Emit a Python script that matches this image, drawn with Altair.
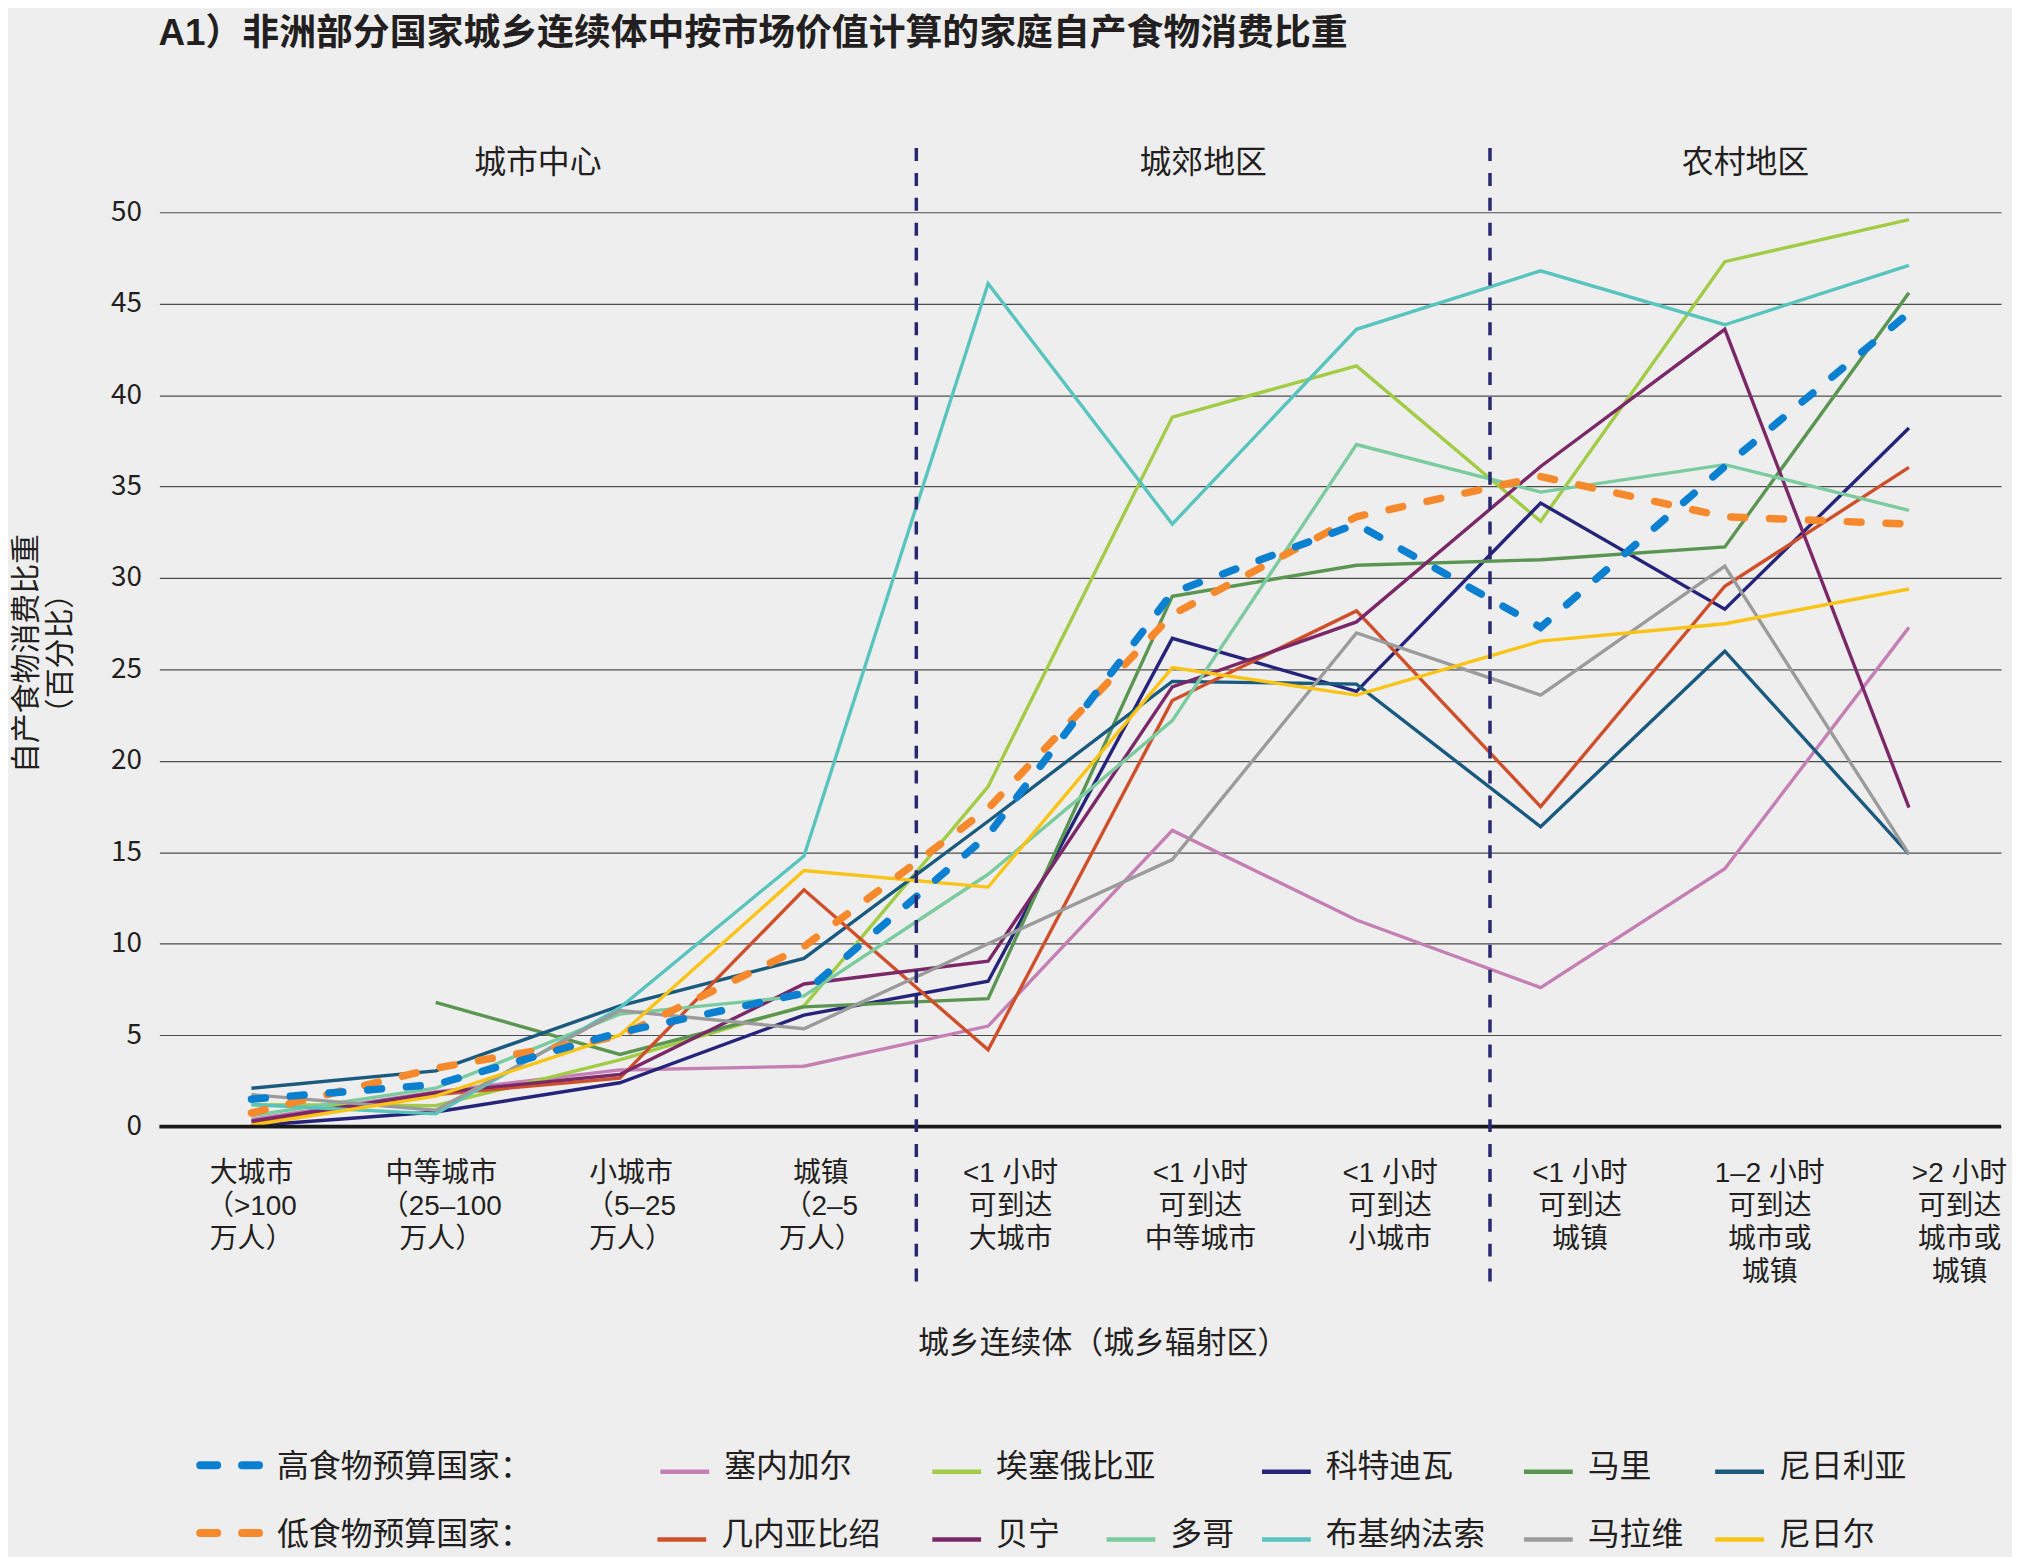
import altair as alt
import pandas as pd

# ---------------- data ----------------
CATEGORIES = [
    "大城市\n（>100\n万人）",
    "中等城市\n（25–100\n万人）",
    "小城市\n（5–25\n万人）",
    "城镇\n（2–5\n万人）",
    "<1 小时\n可到达\n大城市",
    "<1 小时\n可到达\n中等城市",
    "<1 小时\n可到达\n小城市",
    "<1 小时\n可到达\n城镇",
    "1–2 小时\n可到达\n城市或\n城镇",
    ">2 小时\n可到达\n城市或\n城镇",
]
SECTIONS = ["城市中心", "城郊地区", "农村地区"]

HIGH_COUNTRIES = ["塞内加尔", "埃塞俄比亚", "科特迪瓦", "马里", "尼日利亚"]
LOW_COUNTRIES = ["几内亚比绍", "贝宁", "多哥", "布基纳法索", "马拉维", "尼日尔"]

senegal     = [0.4, 1.9, 3.1, 3.3, 5.5, 16.2, 11.3, 7.6, 14.1, 27.3]
ethiopia    = [1.2, 1.15, 3.65, 6.6, 18.6, 38.8, 41.6, 33.1, 47.3, 49.6]
cotedivoire = [0.05, 0.8, 2.4, 6.1, 7.95, 26.7, 23.8, 34.1, 28.3, 38.2]
mali        = [None, 6.8, 3.95, 6.55, 7.0, 29.0, 30.7, 31.0, 31.7, 45.6]
nigeria     = [2.1, 3.05, 6.6, 9.2, 16.7, 24.35, 24.2, 16.4, 26.0, 14.9]
guineabiss  = [0.25, 1.75, 2.65, 12.95, 4.2, 23.3, 28.2, 17.5, 29.55, 36.05]
benin       = [0.3, 1.85, 2.85, 7.8, 9.05, 24.05, 27.6, 36.1, 43.6, 17.45]
togo        = [0.6, 2.1, 6.15, 7.15, 13.8, 22.2, 37.3, 34.7, 36.2, 33.7]
burkina     = [1.2, 0.7, 6.5, 14.8, 46.1, 32.95, 43.6, 46.8, 43.85, 47.1]
malawi      = [1.75, 0.9, 6.35, 5.35, 10.0, 14.6, 27.0, 23.6, 30.65, 14.9]
niger       = [0.08, 1.67, 5.0, 14.0, 13.1, 25.1, 23.6, 26.55, 27.5, 29.4]

AVG_HIGH_NAME = "高食物预算国家："
AVG_LOW_NAME = "低食物预算国家："
avg_high = [1.5, 2.3, 5.15, 7.3, 15.95, 29.2, 32.95, 27.3, 36.1, 44.5]
avg_low  = [0.75, 3.2, 4.95, 9.85, 17.4, 28.0, 33.35, 35.55, 33.35, 32.95]

SERIES = {
    "塞内加尔": senegal, "埃塞俄比亚": ethiopia, "科特迪瓦": cotedivoire,
    "马里": mali, "尼日利亚": nigeria, "几内亚比绍": guineabiss, "贝宁": benin,
    "多哥": togo, "布基纳法索": burkina, "马拉维": malawi, "尼日尔": niger,
}

TITLE = "A1）非洲部分国家城乡连续体中按市场价值计算的家庭自产食物消费比重"
Y_TITLE = "自产食物消费比重\n（百分比）"
X_TITLE = "城乡连续体（城乡辐射区）"

# ---------------- styles / layout ----------------
COLORS = {
    "塞内加尔": "#c47fb4", "埃塞俄比亚": "#a2cc45", "科特迪瓦": "#25247a",
    "马里": "#5a9652", "尼日利亚": "#1a5a7e", "几内亚比绍": "#cf4f2a",
    "贝宁": "#7b2869", "多哥": "#7acb9d", "布基纳法索": "#58c4be",
    "马拉维": "#9b9b9b", "尼日尔": "#f9c415",
}
BLUE = "#0b7fd0"
ORANGE = "#f6892c"
NAVY = "#28276f"
TXT = "#231f20"
BG = "#eeeeee"
FONT = "Noto Sans CJK SC"
FONT_MIX = "Liberation Sans, Noto Sans CJK SC"

W, H = 1849, 918
PAD = {"left": 152, "top": 202, "right": 11, "bottom": 429}
DIVIDERS = [3.61, 6.725]
X_MIN, X_MAX = -0.5, 9.5
LABEL_STEP = 1.0305

X_SCALE = alt.Scale(domain=[X_MIN, X_MAX], nice=False, zero=False)
Y_SCALE = alt.Scale(domain=[0, 50], nice=False, zero=True)

Y_AXIS = alt.Axis(values=list(range(0, 51, 5)), grid=True, gridColor="#4d4d4d",
                  gridWidth=1.2, domain=False, ticks=False, labelPadding=18,
                  labelFontSize=28, labelFont=FONT, labelColor=TXT, title=None)


def xq(f):
    return alt.X(f, scale=X_SCALE, axis=None)


def yq(f):
    return alt.Y(f, scale=Y_SCALE, axis=Y_AXIS)


# ---------------- tables ----------------
names = HIGH_COUNTRIES + LOW_COUNTRIES
rows = []
for name in names:
    for i, v in enumerate(SERIES[name]):
        if v is not None:
            rows.append({"country": name, "idx": i, "value": v})
df = pd.DataFrame(rows)

df_hi = pd.DataFrame({"idx": list(range(len(avg_high))), "value": avg_high})
df_lo = pd.DataFrame({"idx": list(range(len(avg_low))), "value": avg_low})

country_lines = alt.Chart(df).mark_line(strokeWidth=3.4).encode(
    x=xq("idx:Q"),
    y=yq("value:Q"),
    color=alt.Color("country:N",
                    scale=alt.Scale(domain=names, range=[COLORS[n] for n in names]),
                    legend=None),
)

zero_line = alt.Chart(pd.DataFrame({"v": [0]})).mark_rule(
    color="#1a1a1a", strokeWidth=4).encode(y=yq("v:Q"))

lo_line = alt.Chart(df_lo).mark_line(
    strokeWidth=7.5, strokeDash=[14, 25], strokeCap="round", color=ORANGE).encode(
    x=xq("idx:Q"), y=yq("value:Q"))
hi_line = alt.Chart(df_hi).mark_line(
    strokeWidth=7.5, strokeDash=[14, 25], strokeCap="round", color=BLUE).encode(
    x=xq("idx:Q"), y=yq("value:Q"))

dividers = alt.Chart(pd.DataFrame({"pos": DIVIDERS})).mark_rule(
    color=NAVY, strokeWidth=3.5, strokeDash=[13, 12]).encode(
    x=xq("pos:Q"), y=alt.value(-64.5), y2=alt.value(1075.6))

bounds = [X_MIN] + DIVIDERS + [X_MAX]
sec_df = pd.DataFrame({"name": SECTIONS,
                       "pos": [(bounds[k] + bounds[k + 1]) / 2 for k in range(3)]})
sections = alt.Chart(sec_df).mark_text(
    font=FONT, fontSize=32, color=TXT, align="center", baseline="middle").encode(
    x=xq("pos:Q"), y=alt.value(-49), text="name:N")

lab_df = pd.DataFrame({"label": CATEGORIES,
                       "pos": [i * LABEL_STEP for i in range(len(CATEGORIES))]})
xlabels = alt.Chart(lab_df).mark_text(
    font=FONT_MIX, fontSize=28, color=TXT, align="center", baseline="top",
    lineBreak="\n", lineHeight=33).encode(
    x=xq("pos:Q"), y=alt.value(H + 34), text="label:N")


def free_text(txt, x, y, font=FONT, **kw):
    return alt.Chart(pd.DataFrame({"t": [txt]})).mark_text(
        font=font, color=TXT, **kw).encode(
        x=alt.value(x), y=alt.value(y), text="t:N")


title = free_text(TITLE, -1, -179, font=FONT_MIX, fontSize=37, fontWeight="bold",
                  align="left", baseline="middle")
xtitle = free_text(X_TITLE, W / 2 + 23, 1136, fontSize=31,
                   align="center", baseline="middle")
ytitle = free_text(Y_TITLE, -133, 443, font=FONT_MIX, fontSize=30, angle=270,
                   align="center", baseline="middle", lineBreak="\n", lineHeight=34)

# ---------------- legend (manual) ----------------
ROW_Y = [1260, 1328]
SYM_DY = 4.5
SYM_LEN = 49
TXT_GAP = 15
ROW_COLS = [[503, 776, 1107, 1370, 1562], [500, 776, 951, 1107, 1370, 1562]]
AVG_SYM = (41, 100)
AVG_TXT_X = 118
AVG_DY = -2

legend_layers = []
for r, (avg_name, avg_color, group) in enumerate(
        [(AVG_HIGH_NAME, BLUE, HIGH_COUNTRIES), (AVG_LOW_NAME, ORANGE, LOW_COUNTRIES)]):
    y = ROW_Y[r]
    legend_layers.append(
        alt.Chart(pd.DataFrame({"t": [avg_name]})).mark_rule(
            color=avg_color, strokeWidth=8, strokeDash=[17, 25], strokeCap="round").encode(
            x=alt.value(AVG_SYM[0]), x2=alt.value(AVG_SYM[1]), y=alt.value(y + AVG_DY)))
    legend_layers.append(free_text(avg_name, AVG_TXT_X, y, fontSize=32,
                                   align="left", baseline="middle"))
    for name, x0 in zip(group, ROW_COLS[r]):
        legend_layers.append(
            alt.Chart(pd.DataFrame({"t": [name]})).mark_rule(
                color=COLORS[name], strokeWidth=4.5).encode(
                x=alt.value(x0), x2=alt.value(x0 + SYM_LEN), y=alt.value(y + SYM_DY)))
        legend_layers.append(free_text(name, x0 + SYM_LEN + TXT_GAP, y, fontSize=32,
                                       align="left", baseline="middle"))

chart = alt.layer(
    country_lines, lo_line, hi_line, zero_line, dividers, sections, xlabels,
    title, xtitle, ytitle, *legend_layers
).properties(
    width=W, height=H,
    autosize=alt.AutoSizeParams(type="none"),
    padding=PAD,
    background=BG,
).configure_view(stroke=None)

chart.save("out.html", embed_options={"renderer": "svg", "actions": False})
